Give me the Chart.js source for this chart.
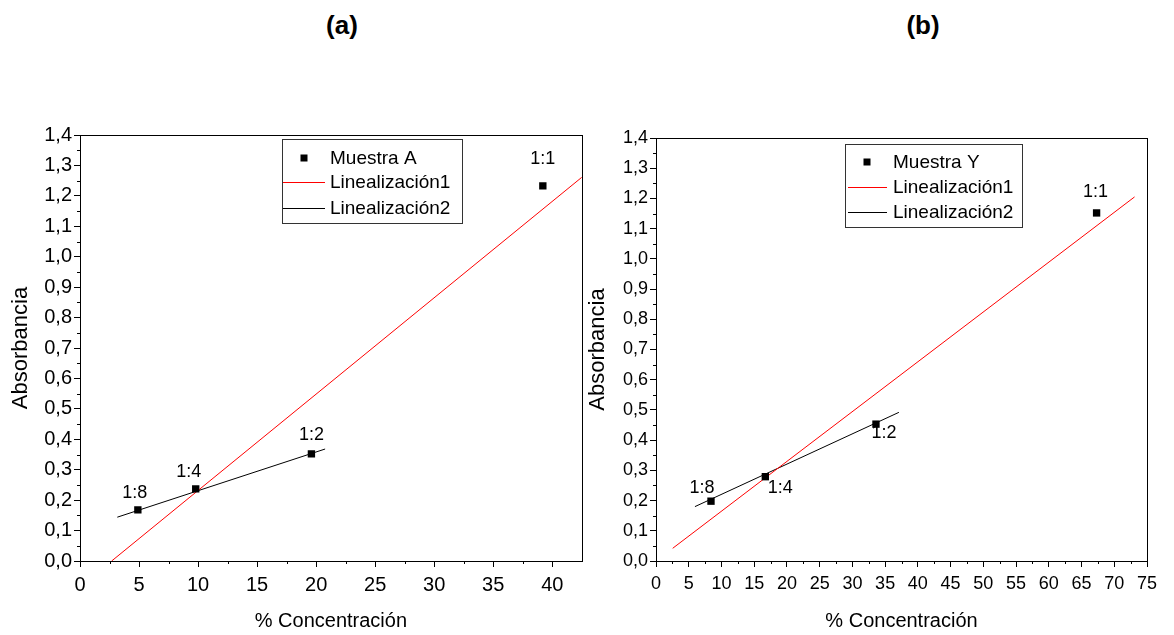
<!DOCTYPE html>
<html>
<head>
<meta charset="utf-8">
<script src="https://cdn.jsdelivr.net/npm/chart.js@4.4.1/dist/chart.umd.min.js"></script>
<style>
  body { margin: 0; background: #fff; width: 1174px; height: 635px; overflow: hidden; position: relative; font-family: "Liberation Sans", Arial, sans-serif; }
  .panel { position: absolute; top: 0; width: 587px; height: 635px; }
  .tit { position: absolute; top: 10px; font-weight: bold; font-size: 26px; width: 80px; text-align: center; }
</style>
</head>
<body>
<div class="tit" style="left:302px">(a)</div>
<div class="tit" style="left:883px">(b)</div>
<div class="panel" style="left:0"><canvas id="chartA"></canvas></div>
<div class="panel" style="left:587px"><canvas id="chartB"></canvas></div>
<script>
// ---- datos ----
const puntosLabels = ['1:8', '1:4', '1:2', '1:1'];

// (a) Muestra A
const muestraA_x = [4.9, 9.8, 19.6, 39.2];
const muestraA_y = [0.168, 0.237, 0.352, 1.233];
const lin1A_x = [2.68, 42.5];
const lin1A_y = [0.0, 1.261];
const lin2A_x = [3.16, 20.76];
const lin2A_y = [0.144, 0.368];

// (b) Muestra Y
const muestraY_x = [8.4, 16.7, 33.6, 67.3];
const muestraY_y = [0.198, 0.279, 0.453, 1.152];
const lin1Y_x = [2.55, 73.1];
const lin1Y_y = [0.042, 1.205];
const lin2Y_x = [5.95, 37.1];
const lin2Y_y = [0.180, 0.492];

// ejes
const yTicks = [0, 0.1, 0.2, 0.3, 0.4, 0.5, 0.6, 0.7, 0.8, 0.9, 1.0, 1.1, 1.2, 1.3, 1.4];
const xTicksA = [0, 5, 10, 15, 20, 25, 30, 35, 40];
const xTicksB = [0, 5, 10, 15, 20, 25, 30, 35, 40, 45, 50, 55, 60, 65, 70, 75];

const FONT = '"Liberation Sans", Arial, sans-serif';

function pares(xs, ys) {
  return xs.map((x, i) => ({ x: x, y: ys[i] }));
}

// marco, ticks menores, etiquetas y leyenda
const extrasPlugin = {
  id: 'extras',
  afterDraw(chart) {
    const o = chart.options.plugins.extras;
    const ctx = chart.ctx;
    const a = chart.chartArea;
    const xs = chart.scales.x, ys = chart.scales.y;
    ctx.save();
    ctx.strokeStyle = '#000';
    ctx.lineWidth = 1;
    ctx.strokeRect(Math.round(a.left) + 0.5, Math.round(a.top) + 0.5, Math.round(a.right - a.left), Math.round(a.bottom - a.top));

    // ticks menores
    ctx.beginPath();
    for (let v = 0.05; v < 1.4; v += 0.1) {
      const py = Math.round(ys.getPixelForValue(v)) + 0.5;
      ctx.moveTo(a.left - 3, py);
      ctx.lineTo(a.left, py);
    }
    for (let v = 2.5; v < xs.max; v += 5) {
      const px = Math.round(xs.getPixelForValue(v)) + 0.5;
      ctx.moveTo(px, a.bottom);
      ctx.lineTo(px, a.bottom + 3);
    }
    ctx.stroke();

    // etiquetas de los puntos
    const meta = chart.getDatasetMeta(0);
    ctx.fillStyle = '#000';
    ctx.font = o.labelFont + 'px ' + FONT;
    ctx.textAlign = 'center';
    ctx.textBaseline = 'middle';
    meta.data.forEach((p, i) => {
      const off = o.labelOffsets[i];
      ctx.fillText(puntosLabels[i], p.x + off[0], p.y + off[1]);
    });

    // leyenda
    const L = o.legend;
    ctx.strokeStyle = '#333';
    ctx.strokeRect(L.x + 0.5, L.y + 0.5, L.w, L.h);
    ctx.font = '19px ' + FONT;
    ctx.textAlign = 'left';
    const items = chart.data.datasets;
    items.forEach((ds, i) => {
      const ry = L.y + L.rows[i];
      if (i === 0) {
        ctx.fillStyle = '#000';
        ctx.fillRect(L.symX - 3.5, ry - 3.5, 7, 7);
      } else {
        ctx.strokeStyle = ds.borderColor;
        ctx.beginPath();
        ctx.moveTo(L.lineX0, Math.round(ry) + 0.5);
        ctx.lineTo(L.lineX1, Math.round(ry) + 0.5);
        ctx.stroke();
      }
      ctx.fillStyle = '#000';
      ctx.fillText(ds.label, L.textX, ry + 1);
    });
    ctx.restore();
  }
};

function crearGrafico(id, cfg) {
  return new Chart(document.getElementById(id), {
    type: 'scatter',
    data: {
      datasets: [
        {
          label: cfg.nombre,
          data: pares(cfg.px, cfg.py),
          pointStyle: 'rect',
          pointRadius: 5.2,
          backgroundColor: '#000',
          borderColor: '#000',
          borderWidth: 0
        },
        {
          label: 'Linealización1',
          data: pares(cfg.l1x, cfg.l1y),
          showLine: true,
          pointRadius: 0,
          borderColor: '#ff0000',
          borderWidth: 1
        },
        {
          label: 'Linealización2',
          data: pares(cfg.l2x, cfg.l2y),
          showLine: true,
          pointRadius: 0,
          borderColor: '#000000',
          borderWidth: 1
        }
      ]
    },
    options: {
      responsive: false,
      animation: false,
      layout: { padding: { top: cfg.padTop, right: cfg.padRight, left: 0, bottom: 0 } },
      plugins: {
        legend: { display: false },
        tooltip: { enabled: false },
        extras: cfg.extras
      },
      scales: {
        x: {
          type: 'linear',
          min: 0,
          max: cfg.xMax,
          afterBuildTicks: s => { s.ticks = cfg.xTicks.map(v => ({ value: v })); },
          ticks: {
            color: '#000',
            font: { family: FONT, size: cfg.xTickFont },
            padding: 6,
            maxRotation: 0,
            autoSkip: false
          },
          grid: { drawOnChartArea: false, tickLength: 6, color: '#000' },
          border: { color: '#000' },
          title: {
            display: true,
            text: '% Concentración',
            color: '#000',
            font: { family: FONT, size: 20, lineHeight: 1 },
            padding: { top: 0, bottom: 4 }
          },
          afterFit: s => { s.height = 74; }
        },
        y: {
          type: 'linear',
          min: 0,
          max: 1.4,
          afterBuildTicks: s => { s.ticks = yTicks.map(v => ({ value: v })); },
          ticks: {
            color: '#000',
            font: { family: FONT, size: cfg.yTickFont },
            padding: 2,
            autoSkip: false,
            callback: v => v.toFixed(1).replace('.', ',')
          },
          grid: { drawOnChartArea: false, tickLength: 6, color: '#000' },
          border: { color: '#000' },
          title: {
            display: true,
            text: 'Absorbancia',
            color: '#000',
            font: { family: FONT, size: 22, lineHeight: 1 },
            padding: { top: cfg.yTitlePad, bottom: 0 }
          },
          afterFit: s => { s.width = cfg.yWidth; }
        }
      }
    },
    plugins: [extrasPlugin]
  });
}

const cA = document.getElementById('chartA');
cA.width = 587; cA.height = 635;
const cB = document.getElementById('chartB');
cB.width = 587; cB.height = 635;

crearGrafico('chartA', {
  nombre: 'Muestra A',
  px: muestraA_x, py: muestraA_y,
  l1x: lin1A_x, l1y: lin1A_y,
  l2x: lin2A_x, l2y: lin2A_y,
  xMax: 42.5, xTicks: xTicksA,
  padTop: 135, padRight: 5, yWidth: 80, yTitlePad: 10,
  xTickFont: 20, yTickFont: 20,
  extras: {
    labelFont: 18,
    labelOffsets: [[-3, -17], [-7, -17], [0, -19], [0, -27]],
    legend: { x: 282, y: 139, w: 180, h: 84, rows: [19, 43, 69], symX: 304, lineX0: 283, lineX1: 325, textX: 330 }
  }
});

crearGrafico('chartB', {
  nombre: 'Muestra Y',
  px: muestraY_x, py: muestraY_y,
  l1x: lin1Y_x, l1y: lin1Y_y,
  l2x: lin2Y_x, l2y: lin2Y_y,
  xMax: 75, xTicks: xTicksB,
  padTop: 138, padRight: 27, yWidth: 69, yTitlePad: 0,
  xTickFont: 18, yTickFont: 18,
  extras: {
    labelFont: 18,
    labelOffsets: [[-9, -13], [15, 11], [8, 9], [-1, -21]],
    legend: { x: 258, y: 144, w: 177, h: 83, rows: [18, 43, 68], symX: 280, lineX0: 261, lineX1: 300, textX: 306 }
  }
});
</script>
</body>
</html>
